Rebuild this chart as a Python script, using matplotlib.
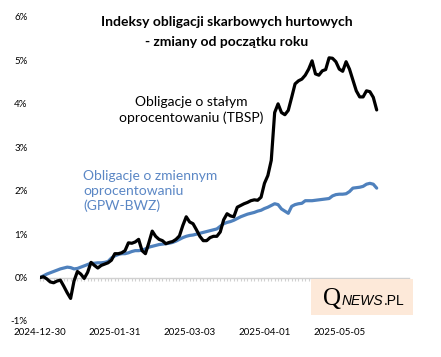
import matplotlib
matplotlib.use("Agg")
import matplotlib.pyplot as plt
from matplotlib.ticker import FuncFormatter, MultipleLocator, FixedLocator
from matplotlib.patches import Rectangle

# ── Data (% change since start of year, one value per session) ──
tbsp = [
    0.00, 0.02, -0.03, -0.10, -0.12, -0.08, -0.06, -0.20, -0.35, -0.48,
    -0.08, 0.14, 0.08, -0.02, 0.12, 0.35, 0.28, 0.22, 0.28, 0.31,
    0.34, 0.40, 0.55, 0.55, 0.57, 0.62, 0.80, 0.79, 0.82, 0.88,
    0.62, 0.55, 0.80, 1.07, 0.95, 0.88, 0.85, 0.78, 0.81, 0.83,
    0.88, 0.96, 1.20, 1.40, 1.28, 1.24, 1.10, 0.95, 0.85, 0.85,
    0.92, 0.95, 0.95, 1.05, 1.33, 1.47, 1.42, 1.40, 1.62, 1.66,
    1.70, 1.73, 1.77, 1.79, 1.78, 1.85, 2.17, 2.35, 2.70, 3.80,
    4.00, 3.80, 3.75, 3.85, 4.15, 4.46, 4.53, 4.57, 4.66, 4.80,
    4.99, 4.69, 4.66, 4.76, 4.79, 5.06, 5.05, 4.97, 4.80, 4.75,
    4.97, 4.80, 4.55, 4.30, 4.16, 4.16, 4.30, 4.28, 4.15, 3.86,
]
gpw_bwz = [
    0.00, 0.04, 0.08, 0.11, 0.14, 0.17, 0.20, 0.22, 0.24, 0.23,
    0.20, 0.21, 0.24, 0.27, 0.30, 0.33, 0.33, 0.34, 0.34, 0.35,
    0.37, 0.45, 0.50, 0.53, 0.55, 0.55, 0.57, 0.60, 0.62, 0.62,
    0.63, 0.66, 0.70, 0.72, 0.74, 0.76, 0.77, 0.78, 0.79, 0.81,
    0.84, 0.88, 0.92, 0.95, 0.97, 0.98, 1.00, 1.02, 1.04, 1.06,
    1.08, 1.10, 1.12, 1.18, 1.24, 1.27, 1.29, 1.32, 1.36, 1.40,
    1.43, 1.46, 1.48, 1.50, 1.53, 1.55, 1.59, 1.62, 1.66, 1.70,
    1.68, 1.58, 1.53, 1.48, 1.64, 1.68, 1.70, 1.71, 1.77, 1.77,
    1.77, 1.78, 1.79, 1.80, 1.81, 1.82, 1.88, 1.91, 1.92, 1.92,
    1.93, 1.98, 2.06, 2.07, 2.08, 2.10, 2.15, 2.17, 2.15, 2.06,
]
date_labels = ["2024-12-30", "2025-01-31", "2025-03-03", "2025-04-01", "2025-05-05"]
label_step = 22
n_categories = 109

FONT = ["Lato", "DejaVu Sans"]
BLUE = "#4f81bd"

fig = plt.figure(figsize=(4.41, 3.57), dpi=100, facecolor="white")
ax = fig.add_axes([40 / 441, 36 / 357, 369 / 441, 304 / 357])

x = list(range(len(tbsp)))
ax.plot(x, gpw_bwz, color=BLUE, lw=2.3, solid_capstyle="round", zorder=3)
ax.plot(x, tbsp, color="black", lw=2.3, solid_capstyle="round", zorder=4)

ax.set_xlim(0, n_categories - 0.5)
ax.set_ylim(-1, 6)

# axes styling: only the zero line with small category ticks
for s in ("top", "right", "left"):
    ax.spines[s].set_visible(False)
ax.spines["bottom"].set_position(("data", 0))
ax.spines["bottom"].set_color("#d0d0d0")
ax.spines["bottom"].set_linewidth(1.0)

ax.xaxis.set_minor_locator(MultipleLocator(1))
ax.xaxis.set_major_locator(FixedLocator([i * label_step for i in range(len(date_labels))]))
ax.set_xticklabels(date_labels)
ax.tick_params(axis="x", which="both", direction="out", length=2.5,
               color="#d0d0d0", width=0.8)
ax.tick_params(axis="x", which="major", pad=34, labelsize=7)

ax.yaxis.set_major_locator(MultipleLocator(1))
ax.yaxis.set_major_formatter(FuncFormatter(lambda v, _: f"{v:.0f}%"))
ax.tick_params(axis="y", length=0, pad=9, labelsize=7)
for lbl in ax.get_xticklabels() + ax.get_yticklabels():
    lbl.set_family(FONT)

# ── Texts ──
fig.text(227 / 441, 1 - 22 / 357, "Indeksy obligacji skarbowych hurtowych",
         ha="center", va="center", fontsize=10, fontweight="bold", family=FONT)
fig.text(227 / 441, 1 - 42 / 357, "- zmiany od początku roku",
         ha="center", va="center", fontsize=10, fontweight="bold", family=FONT)

fig.text(191 / 441, 1 - 110 / 357, "Obligacje o stałym\noprocentowaniu (TBSP)",
         ha="center", va="center", fontsize=10, family=FONT, color="black",
         linespacing=1.35)
fig.text(83 / 441, 1 - 191 / 357, "Obligacje o zmiennym\noprocentowaniu\n(GPW-BWZ)",
         ha="left", va="center", fontsize=10, family=FONT, color="#5b87c5",
         linespacing=1.25)

# ── Logo ──
fig.patches.append(Rectangle((311 / 441, 1 - 315 / 357), 102 / 441, 36 / 357,
                             transform=fig.transFigure, facecolor="#fde9d9",
                             edgecolor="none", zorder=5))
q = fig.text(323 / 441, 1 - 305 / 357, "Q", ha="left", va="baseline", fontsize=18,
             family="Liberation Serif", zorder=6)
news = fig.text(0, 0, "NEWS", ha="left", va="baseline", fontsize=10,
                family="Liberation Sans", style="italic", zorder=6)
pl = fig.text(0, 0, ".PL", ha="left", va="baseline", fontsize=10,
              family="Liberation Sans", zorder=6)
fig.canvas.draw()
r = fig.canvas.get_renderer()
bb = q.get_window_extent(r)
news.set_position(((bb.x1 + 0.5) / fig.bbox.width, q.get_position()[1]))
bb = news.get_window_extent(r)
pl.set_position(((bb.x1 + 0.5) / fig.bbox.width, q.get_position()[1]))

fig.savefig("out.png", dpi=100, facecolor="white")
